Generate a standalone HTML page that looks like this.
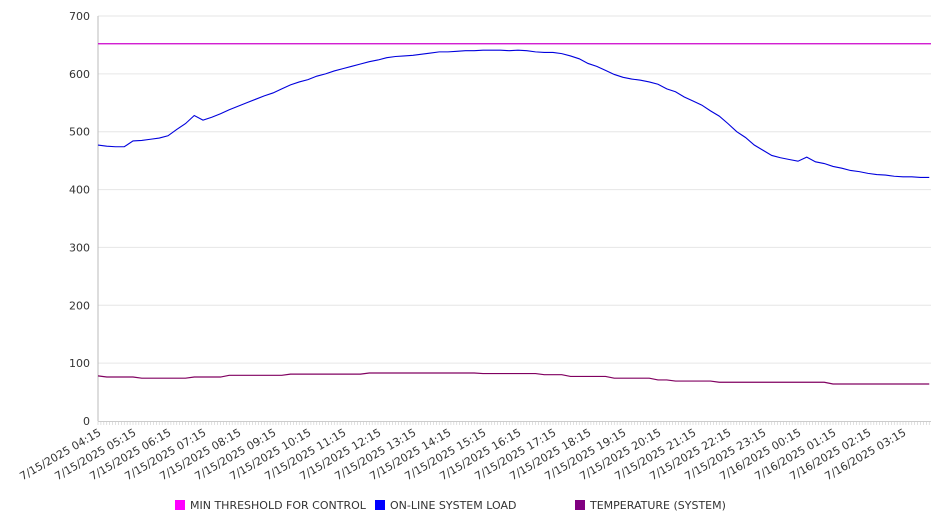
<!DOCTYPE html>
<html><head><meta charset="utf-8"><style>
body{margin:0;background:#fff;}
svg{display:block;font-family:"DejaVu Sans","Liberation Sans",sans-serif;}
</style></head><body>
<svg id="chart" width="946" height="526" viewBox="0 0 946 526" xmlns="http://www.w3.org/2000/svg">
<g id="grid"></g>
<g id="yaxis"></g>
<g id="xaxis"></g>
<g id="series"></g>
<g id="legend">
  <g><rect x="175" y="500" width="10" height="10" fill="#ff00ff"/><text x="190" y="509" font-size="11" fill="#333">MIN THRESHOLD FOR CONTROL</text></g>
  <g><rect x="375" y="500" width="10" height="10" fill="#0000ff"/><text x="390" y="509" font-size="11" fill="#333">ON-LINE SYSTEM LOAD</text></g>
  <g><rect x="575" y="500" width="10" height="10" fill="#800080"/><text x="590" y="509" font-size="11" fill="#333">TEMPERATURE (SYSTEM)</text></g>
</g>
</svg>
<script>
const xLabels = ["7/15/2025 04:15","7/15/2025 05:15","7/15/2025 06:15","7/15/2025 07:15","7/15/2025 08:15","7/15/2025 09:15","7/15/2025 10:15","7/15/2025 11:15","7/15/2025 12:15","7/15/2025 13:15","7/15/2025 14:15","7/15/2025 15:15","7/15/2025 16:15","7/15/2025 17:15","7/15/2025 18:15","7/15/2025 19:15","7/15/2025 20:15","7/15/2025 21:15","7/15/2025 22:15","7/15/2025 23:15","7/16/2025 00:15","7/16/2025 01:15","7/16/2025 02:15","7/16/2025 03:15"];
const yTicks = [0,100,200,300,400,500,600,700];
const thresholdValue = 652;
const loadValues = [477,475,474,474,484,485,487,489,493,504,514,528,520,525,531,538,544,550,556,562,567,574,581,586,590,596,600,605,609,613,617,621,624,628,630,631,632,634,636,638,638,639,640,640,641,641,641,640,641,640,638,637,637,635,631,626,618,613,606,599,594,591,589,586,582,574,569,560,553,546,536,527,514,500,490,477,468,459,455,452,449,456,448,445,440,437,433,431,428,426,425,423,422,422,421,421];
const tempValues = [78,76,76,76,76,74,74,74,74,74,74,76,76,76,76,79,79,79,79,79,79,79,81,81,81,81,81,81,81,81,81,83,83,83,83,83,83,83,83,83,83,83,83,83,82,82,82,82,82,82,82,80,80,80,77,77,77,77,77,74,74,74,74,74,71,71,69,69,69,69,69,67,67,67,67,67,67,67,67,67,67,67,67,67,64,64,64,64,64,64,64,64,64,64,64,64];

const NS="http://www.w3.org/2000/svg";
const X0=98, X1=931, Y0=421, Y1=16, hourPx=35, stepMin=15;
const xPos = i => X0 + i*stepMin/60*hourPx;
const yPos = v => Y0 - (v/700)*(Y0-Y1);
function mk(tag, attrs, parent){const e=document.createElementNS(NS,tag);for(const k in attrs)e.setAttribute(k,attrs[k]);parent.appendChild(e);return e;}
const grid=document.getElementById('grid'), ya=document.getElementById('yaxis'), xa=document.getElementById('xaxis'), ser=document.getElementById('series');
yTicks.forEach(t=>{
  const y=yPos(t);
  if(t>0){const g=mk('line',{x1:X0,x2:X1,y1:y,y2:y,stroke:'#e6e6e6','stroke-width':1},grid);
  
  }
  const tx=mk('text',{x:90,y:y+4,'text-anchor':'end','font-size':11,fill:'#333'},ya);
  tx.textContent=t;
  
  
});
const axl=mk('line',{x1:X0,x2:X0,y1:Y1,y2:Y0,stroke:'#bbb','stroke-width':1},ya);


const bx=mk('line',{x1:X0,x2:X1,y1:Y0+0.5,y2:Y0+0.5,stroke:'#ccc','stroke-width':1},xa);


for(let x=X0;x<=X1;x+=hourPx/12){
  const t=mk('line',{x1:x,x2:x,y1:Y0,y2:Y0+4,stroke:'#ccc','stroke-width':0.6},xa);
  
  
}
xLabels.forEach((l,i)=>{
  const x=X0+i*hourPx, y=428;
  const t=mk('text',{x:x,y:y,'text-anchor':'end','font-size':11,fill:'#333',transform:`rotate(-30 ${x} ${y})`,dy:'0.7em'},xa);
  t.textContent=l;
  
  
});
const th=mk('line',{x1:X0,x2:X1,y1:yPos(thresholdValue),y2:yPos(thresholdValue),stroke:'#cc00cc','stroke-width':1.2},ser);


const path = vals => vals.map((v,i)=>(i?'L':'M')+xPos(i).toFixed(2)+' '+yPos(v).toFixed(2)).join(' ');
const lp=mk('path',{d:path(loadValues),fill:'none',stroke:'#0000dd','stroke-width':1.1},ser);


const tp=mk('path',{d:path(tempValues),fill:'none',stroke:'#800060','stroke-width':1.2},ser);


</script>
</body></html>
